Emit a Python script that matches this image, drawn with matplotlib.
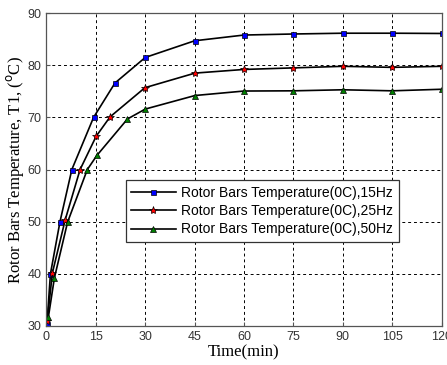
import matplotlib
matplotlib.use("Agg")
import matplotlib.pyplot as plt

t_15 = [0.15, 1.2, 4.1, 7.7, 14.3, 20.8, 30, 45, 60, 75, 90, 105, 120]
T_15 = [30.4, 40.0, 50.0, 60.0, 70.0, 76.6, 81.5, 84.7, 85.8, 86.0, 86.15, 86.15, 86.1]

t_25 = [0.2, 1.8, 5.7, 10.2, 15.1, 19.3, 29.9, 45.1, 60, 75, 90, 105, 120]
T_25 = [30.9, 40.2, 50.4, 60.0, 66.4, 70.1, 75.7, 78.5, 79.2, 79.5, 79.8, 79.6, 79.8]

t_50 = [0.6, 2.4, 6.4, 12.4, 15.3, 24.6, 30, 45.1, 60, 75, 90, 105, 120]
T_50 = [31.8, 39.2, 49.9, 60.0, 62.7, 69.7, 71.6, 74.2, 75.06, 75.1, 75.3, 75.1, 75.4]

labels = ["Rotor Bars Temperature(0C),15Hz",
          "Rotor Bars Temperature(0C),25Hz",
          "Rotor Bars Temperature(0C),50Hz"]
xticks = [0, 15, 30, 45, 60, 75, 90, 105, 120]
yticks = [30, 40, 50, 60, 70, 80, 90]

fig = plt.figure(figsize=(4.47, 3.65), dpi=100)
ax = fig.add_axes([0.104, 0.107, 0.884, 0.857])

styles = [("s", "#0000ff", 3.6), ("*", "#ff0000", 6), ("^", "#008000", 4.2)]
series = [(t_15, T_15), (t_25, T_25), (t_50, T_50)]
for (x, y), (m, c, ms), lab in zip(series, styles, labels):
    ax.plot(x, y, color="black", lw=1.2, marker=m, markerfacecolor=c,
            markeredgecolor="black", markeredgewidth=0.5, markersize=ms, label=lab)

ax.set_xlim(0, 120)
ax.set_ylim(30, 90)
ax.set_xticks(xticks)
ax.set_yticks(yticks)
ax.grid(True, color="black", linestyle=(0, (3, 3)), linewidth=0.7)
for s in ax.spines.values():
    s.set_color("#555555")
    s.set_linewidth(0.9)
ax.tick_params(direction="in", length=3, colors="#555555", labelcolor="#333333",
               labelsize=9)
for lbl in ax.get_xticklabels() + ax.get_yticklabels():
    lbl.set_family("Liberation Sans")

ax.set_xlabel("Time(min)", family="Liberation Serif", fontsize=12, labelpad=1)
ax.set_ylabel("Rotor Bars Temperature, T1, ($^{\\rm o}$C)", family="Liberation Serif",
              fontsize=12, labelpad=1)

leg = ax.legend(loc="upper left", bbox_to_anchor=(0.2, 0.465), borderaxespad=0,
                prop={"family": "Liberation Sans", "size": 10}, fancybox=False,
                framealpha=1, edgecolor="#333333", handlelength=3.2,
                labelspacing=0.3, borderpad=0.4, handletextpad=0.4)
leg.get_frame().set_linewidth(0.9)

fig.savefig("out.png", dpi=100)
